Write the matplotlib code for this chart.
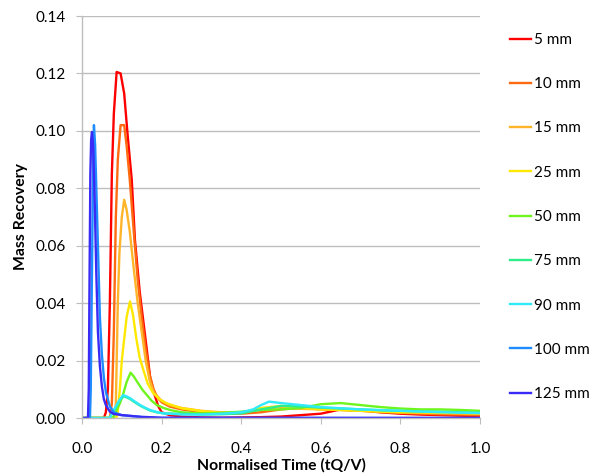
import numpy as np
import matplotlib
matplotlib.use("Agg")
import matplotlib.pyplot as plt

plt.rcParams['font.family'] = ['Lato', 'DejaVu Sans']

# Breakthrough curves: normalised time vs mass recovery for each distance
labels = ["5 mm", "10 mm", "15 mm", "25 mm", "50 mm", "75 mm", "90 mm", "100 mm", "125 mm"]
colors = ["#FF0000", "#FF6A10", "#FFB52A", "#FFE800", "#6EF51E",
          "#2EEE8C", "#30EAFA", "#1E8CFF", "#3A2AF5"]

tail_t = [0.25, 0.3, 0.35, 0.4, 0.45, 0.5, 0.55, 0.6, 0.65, 0.7, 0.75, 0.8, 0.85, 0.9, 0.95, 1.0]

t_5 = [0.0, 0.055, 0.06, 0.065, 0.07, 0.075, 0.08, 0.087, 0.097, 0.106, 0.115, 0.125, 0.133,
       0.145, 0.16, 0.171, 0.18, 0.192, 0.2, 0.22] + tail_t
y_5 = [0.0, 0.0, 0.002, 0.01, 0.04, 0.085, 0.106, 0.1205, 0.12, 0.113, 0.098, 0.083, 0.062,
       0.044, 0.027, 0.0144, 0.009, 0.004, 0.002, 0.001,
       0.0005, 0.0002, 0.0001, 0.0002, 0.0003, 0.0005, 0.001, 0.0015, 0.003, 0.0028, 0.002,
       0.0015, 0.0012, 0.001, 0.0008, 0.0007]

t_10 = [0.0, 0.07, 0.075, 0.08, 0.085, 0.09, 0.097, 0.106, 0.112, 0.12, 0.13, 0.14, 0.15,
        0.16, 0.17, 0.18, 0.19, 0.2, 0.22] + tail_t
y_10 = [0.0, 0.0, 0.005, 0.03, 0.07, 0.09, 0.102, 0.102, 0.095, 0.083, 0.065, 0.048, 0.035,
        0.024, 0.015, 0.01, 0.007, 0.0055, 0.004,
        0.003, 0.002, 0.0015, 0.0015, 0.002, 0.003, 0.0035, 0.003, 0.0028, 0.0025, 0.002,
        0.0018, 0.0015, 0.0013, 0.0012, 0.001]

t_15 = [0.0, 0.08, 0.085, 0.09, 0.094, 0.1, 0.106, 0.112, 0.12, 0.13, 0.14, 0.15, 0.16,
        0.17, 0.18, 0.2, 0.22] + tail_t
y_15 = [0.0, 0.0, 0.005, 0.04, 0.0575, 0.07, 0.076, 0.0726, 0.065, 0.052, 0.04, 0.03, 0.02,
        0.013, 0.009, 0.006, 0.0045,
        0.0035, 0.0025, 0.002, 0.002, 0.003, 0.0038, 0.0032, 0.003, 0.0028, 0.0026, 0.0024,
        0.002, 0.0018, 0.0017, 0.0016, 0.0015]

t_25 = [0.0, 0.085, 0.089, 0.095, 0.1, 0.104, 0.112, 0.1206, 0.128, 0.137, 0.145, 0.154,
        0.165, 0.179, 0.195, 0.213] + tail_t
y_25 = [0.0, 0.0, 0.001, 0.0098, 0.02, 0.025, 0.035, 0.0406, 0.036, 0.0272, 0.021, 0.0168,
        0.012, 0.0086, 0.0065, 0.0051,
        0.0034, 0.0024, 0.0018, 0.0018, 0.0035, 0.0042, 0.0035, 0.003, 0.0028, 0.0025, 0.0022,
        0.002, 0.002, 0.0018, 0.0017, 0.0016]

t_50 = [0.0, 0.075, 0.08, 0.087, 0.095, 0.104, 0.112, 0.122, 0.13, 0.141, 0.152, 0.163,
        0.175, 0.188, 0.205, 0.221] + tail_t
y_50 = [0.0, 0.0, 0.0005, 0.0028, 0.005, 0.0086, 0.0125, 0.0158, 0.0145, 0.0121, 0.0098,
        0.008, 0.006, 0.0045, 0.0035, 0.0028,
        0.002, 0.0016, 0.0018, 0.0022, 0.0028, 0.003, 0.0035, 0.0048, 0.0052, 0.0045, 0.0038,
        0.0033, 0.003, 0.003, 0.0028, 0.0025]

t_75 = [0.0, 0.07, 0.075, 0.087, 0.095, 0.105, 0.112, 0.121, 0.13, 0.146, 0.16, 0.171,
        0.19, 0.21] + tail_t
y_75 = [0.0, 0.0, 0.0014, 0.0042, 0.0062, 0.0076, 0.0072, 0.0066, 0.0057, 0.0043, 0.0033,
        0.0026, 0.0019, 0.0016,
        0.0015, 0.0012, 0.0013, 0.0016, 0.003, 0.0042, 0.004, 0.0036, 0.0033, 0.003, 0.0027,
        0.0025, 0.0023, 0.0022, 0.002, 0.0019]

t_90 = [0.0, 0.07, 0.075, 0.087, 0.095, 0.104, 0.112, 0.121, 0.13, 0.146, 0.16, 0.171,
        0.19, 0.204, 0.25, 0.3, 0.35, 0.4, 0.43, 0.45, 0.47, 0.5, 0.55, 0.6, 0.7, 0.8, 0.9, 1.0]
y_90 = [0.0, 0.0, 0.0016, 0.0045, 0.0065, 0.008, 0.0075, 0.0069, 0.006, 0.0045, 0.0035,
        0.0028, 0.002, 0.0016, 0.0012, 0.0012, 0.0015, 0.002, 0.003, 0.0045, 0.0057, 0.0052,
        0.0045, 0.0038, 0.003, 0.0025, 0.002, 0.0017]

t_100 = [0.0, 0.02, 0.022, 0.025, 0.028, 0.03, 0.033, 0.036, 0.04, 0.045, 0.05, 0.055, 0.06,
         0.07, 0.08, 0.1, 0.15, 0.2, 1.0]
y_100 = [0.0, 0.0, 0.01, 0.05, 0.09, 0.102, 0.095, 0.08, 0.06, 0.035, 0.022, 0.014, 0.009,
         0.004, 0.002, 0.001, 0.0003, 0.0, 0.0]

t_125 = [0.0, 0.015, 0.017, 0.019, 0.021, 0.023, 0.025, 0.028, 0.032, 0.036, 0.04, 0.045,
         0.05, 0.055, 0.06, 0.07, 0.08, 0.1, 0.15, 0.2, 1.0]
y_125 = [0.0, 0.0, 0.01, 0.05, 0.085, 0.097, 0.0996, 0.095, 0.075, 0.05, 0.03, 0.018, 0.011,
         0.0065, 0.0045, 0.0022, 0.0014, 0.001, 0.0004, 0.0001, 0.0]

series = [(t_5, y_5), (t_10, y_10), (t_15, y_15), (t_25, y_25), (t_50, y_50),
          (t_75, y_75), (t_90, y_90), (t_100, y_100), (t_125, y_125)]

fig = plt.figure(figsize=(5.92, 4.76), dpi=100)
ax = fig.add_axes([82 / 592, 1 - 418 / 476, (480 - 82) / 592, (418 - 16) / 476])

for (t, y), c, lab in zip(series, colors, labels):
    ax.plot(t, y, color=c, lw=1.7, label=lab, solid_joinstyle='round')

ax.set_xlim(0, 1.0)
ax.set_ylim(0, 0.14)
ax.set_xticks(np.arange(0, 1.01, 0.2))
ax.set_yticks(np.arange(0, 0.141, 0.02))
ax.xaxis.set_major_formatter(matplotlib.ticker.FormatStrFormatter('%.1f'))
ax.yaxis.set_major_formatter(matplotlib.ticker.FormatStrFormatter('%.2f'))

grid_c = "#BDBDBD"
ax.grid(axis='y', color=grid_c, lw=1.0)
ax.set_axisbelow(True)
for s in ['top', 'right']:
    ax.spines[s].set_visible(False)
for s in ['left', 'bottom']:
    ax.spines[s].set_color(grid_c)
    ax.spines[s].set_linewidth(1.0)
ax.tick_params(axis='both', colors=grid_c, labelcolor='black', labelsize=11, length=4)
ax.tick_params(axis='y', pad=8)
ax.tick_params(axis='x', pad=13)

ax.set_xlabel("Normalised Time (tQ/V)", fontsize=11.3, fontweight='bold', labelpad=2)
ax.set_ylabel("Mass Recovery", fontsize=11.3, fontweight='bold', labelpad=5)

fig.legend(loc='upper left', bbox_to_anchor=(510 / 592, 1 - 33 / 476), frameon=False,
           fontsize=11, handlelength=1.4, handletextpad=0.15, labelspacing=1.98,
           borderaxespad=0, borderpad=0)

fig.savefig("out.png", dpi=100)
